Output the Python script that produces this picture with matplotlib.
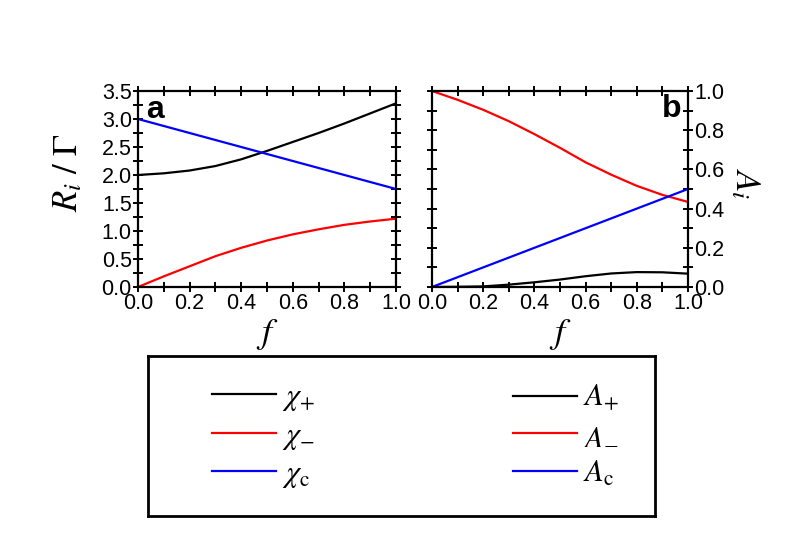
import matplotlib
matplotlib.use("Agg")
import matplotlib.pyplot as plt
from matplotlib.ticker import MultipleLocator, FormatStrFormatter

plt.rcParams['font.family'] = ['Liberation Sans', 'DejaVu Sans']
plt.rcParams['mathtext.fontset'] = 'stix'

# data
f = [0.0, 0.1, 0.2, 0.3, 0.4, 0.5, 0.6, 0.7, 0.8, 0.9, 1.0]
chi_plus = [2.00, 2.03, 2.08, 2.16, 2.28, 2.43, 2.59, 2.75, 2.92, 3.10, 3.28]
chi_minus = [0.00, 0.19, 0.37, 0.55, 0.70, 0.83, 0.94, 1.03, 1.11, 1.17, 1.22]
chi_c = [3.00, 2.875, 2.75, 2.625, 2.50, 2.375, 2.25, 2.125, 2.00, 1.875, 1.75]
A_plus = [0.0, 0.001, 0.003, 0.012, 0.024, 0.038, 0.055, 0.069, 0.076, 0.075, 0.068]
A_minus = [1.0, 0.955, 0.904, 0.846, 0.78, 0.71, 0.636, 0.573, 0.516, 0.47, 0.434]
A_c = [0.0, 0.05, 0.10, 0.15, 0.20, 0.25, 0.30, 0.35, 0.40, 0.45, 0.50]

W, H = 803, 554
fig = plt.figure(figsize=(W / 100, H / 100), dpi=100)

def fa(x0, y0, x1, y1):
    return [x0 / W, 1 - y1 / H, (x1 - x0) / W, (y1 - y0) / H]

axa = fig.add_axes(fa(138, 91, 396, 287))
axb = fig.add_axes(fa(432, 91, 688, 287))

lw = 1.6
la1, = axa.plot(f, chi_plus, color="black", lw=lw)
la2, = axa.plot(f, chi_minus, color="red", lw=lw)
la3, = axa.plot(f, chi_c, color="blue", lw=lw)
lb1, = axb.plot(f, A_plus, color="black", lw=lw)
lb2, = axb.plot(f, A_minus, color="red", lw=lw)
lb3, = axb.plot(f, A_c, color="blue", lw=lw)

for ax in (axa, axb):
    ax.set_xlim(0, 1)
    ax.xaxis.set_major_locator(MultipleLocator(0.2))
    ax.xaxis.set_minor_locator(MultipleLocator(0.1))
    ax.xaxis.set_major_formatter(FormatStrFormatter('%.1f'))
    ax.yaxis.set_major_formatter(FormatStrFormatter('%.1f'))
    for s in ax.spines.values():
        s.set_linewidth(1.6)
    ax.tick_params(which="both", direction="inout", top=True, right=True,
                   width=1.4, length=7, labelsize=15.5, pad=1)
    ax.set_xlabel("$f$", fontsize=26, labelpad=2)

axa.set_ylim(0, 3.5)
axa.yaxis.set_major_locator(MultipleLocator(0.5))
axa.yaxis.set_minor_locator(MultipleLocator(0.25))
axa.set_ylabel(r"$R_i\ /\ \Gamma$", fontsize=25, va="center")
axa.yaxis.set_label_coords((68 - 138) / 258, 1 - (173 - 91) / 196)
axa.text(0.03, 0.98, "a", transform=axa.transAxes, fontsize=23,
         fontweight="bold", ha="left", va="top")

axb.set_ylim(0, 1)
axb.yaxis.set_major_locator(MultipleLocator(0.2))
axb.yaxis.set_minor_locator(MultipleLocator(0.1))
axb.tick_params(axis="y", which="both", labelleft=False, labelright=True)
axb.yaxis.set_label_position("right")
axb.set_ylabel("$A_i$", fontsize=25, rotation=-90, va="center")
axb.yaxis.set_label_coords((745 - 432) / 256, 1 - (184 - 91) / 196)
axb.text(0.975, 0.985, "b", transform=axb.transAxes, fontsize=23,
         fontweight="bold", ha="right", va="top")

# legend box
axl = fig.add_axes(fa(148, 356, 655, 516))
axl.set_xticks([]); axl.set_yticks([])
for s in axl.spines.values():
    s.set_linewidth(2)
labels_chi = [r"$\chi_{+}$", r"$\chi_{-}$", r"$\chi_{\mathrm{c}}$"]
labels_A = [r"$A_{+}$", r"$A_{-}$", r"$A_{\mathrm{c}}$"]
kw = dict(frameon=False, fontsize=22, handlelength=2.1, handletextpad=0.2,
          labelspacing=0.25, borderpad=0, borderaxespad=0, loc="center left",
          bbox_transform=fig.transFigure)
leg1 = axl.legend([la1, la2, la3], labels_chi,
                  bbox_to_anchor=(212 / W, 1 - 436 / H), **kw)
axl.add_artist(leg1)
axl.legend([lb1, lb2, lb3], labels_A,
           bbox_to_anchor=(513 / W, 1 - 436 / H), **kw)

fig.savefig("out.png", dpi=100, facecolor="white")
